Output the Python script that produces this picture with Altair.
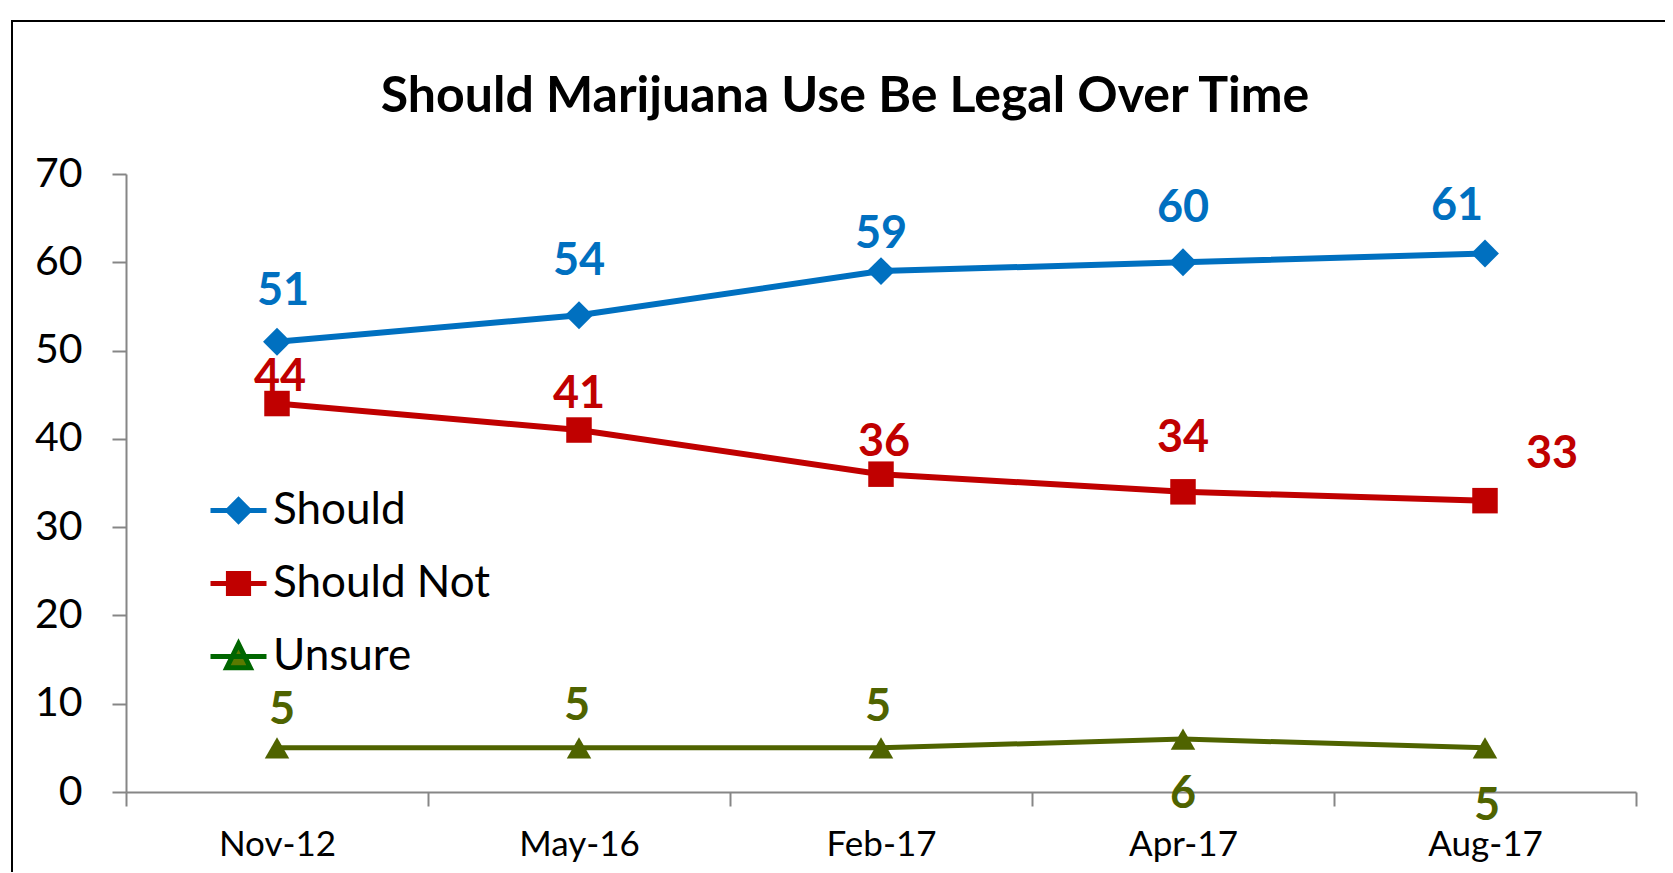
import altair as alt
import pandas as pd

categories = ["Nov-12", "May-16", "Feb-17", "Apr-17", "Aug-17"]
series_names = ["Should", "Should Not", "Unsure"]
should = [51, 54, 59, 60, 61]
should_not = [44, 41, 36, 34, 33]
unsure = [5, 5, 5, 6, 5]
y_ticks = [0, 10, 20, 30, 40, 50, 60, 70]
title_text = "Should Marijuana Use Be Legal Over Time"

rows = []
for s, vals in zip(series_names, [should, should_not, unsure]):
    for c, v in zip(categories, vals):
        rows.append({"date": c, "series": s, "value": v})
df = pd.DataFrame(rows)

# styles
colors = {"Should": "#0070C0", "Should Not": "#C00000", "Unsure": "#4F6300"}
shapes = {"Should": "diamond", "Should Not": "square", "Unsure": "triangle-up"}
sizes = {"Should": 780, "Should Not": 650, "Unsure": 600}
widths = {"Should": 6, "Should Not": 6, "Unsure": 5}
label_shift = {
    "Should": [(6, -51), (0, -54), (0, -37), (0, -54), (-28, -47)],
    "Should Not": [(3, -27), (0, -36), (3, -32), (0, -54), (67, -47)],
    "Unsure": [(5, -38), (-2, -42), (-3, -41), (0, 55), (2, 58)],
}
FONT = "Lato"
W, H = 1510, 618

x_enc = alt.X(
    "date:N",
    sort=categories,
    scale=alt.Scale(type="band", domain=categories, paddingInner=0, paddingOuter=0),
    axis=alt.Axis(
        title=None, labelAngle=0, tickBand="extent", tickSize=14, labelPadding=21,
        labelFontSize=35, labelFont=FONT, labelColor="black",
        domainColor="#868686", tickColor="#868686", domainWidth=2, tickWidth=2,
    ),
)
y_enc = alt.Y(
    "value:Q",
    scale=alt.Scale(domain=[0, 70], nice=False, zero=True),
    axis=alt.Axis(
        title=None, values=y_ticks, grid=False, tickSize=14, labelPadding=30,
        labelFontSize=41, labelFont=FONT, labelColor="black",
        domainColor="#868686", tickColor="#868686", domainWidth=2, tickWidth=2,
    ),
)

base = alt.Chart(df)
one = alt.Chart(pd.DataFrame({"k": [0]}))
layers = []

# frame around chart area
frame = one.mark_rect(
    fill="white", fillOpacity=0, stroke="black", strokeWidth=2
).encode(x=alt.value(-114), y=alt.value(-153), x2=alt.value(W + 300), y2=alt.value(H + 300))
layers.append(frame)

# chart title
title_layer = one.mark_text(
    text=title_text, font=FONT, fontSize=50, fontWeight="bold", color="black",
    align="center", baseline="middle",
).encode(x=alt.value(719), y=alt.value(-77))
layers.append(title_layer)

for s in series_names:
    sub = base.transform_filter(alt.datum.series == s)
    layers.append(
        sub.mark_line(color=colors[s], strokeWidth=widths[s]).encode(x=x_enc, y=y_enc)
    )
    layers.append(
        sub.mark_point(
            shape=shapes[s], filled=True, opacity=1, color=colors[s], size=sizes[s], strokeWidth=0
        ).encode(x=x_enc, y=y_enc)
    )
    for i, c in enumerate(categories):
        dx, dy = label_shift[s][i]
        layers.append(
            base.transform_filter((alt.datum.series == s) & (alt.datum.date == c))
            .mark_text(
                dx=dx, dy=dy, font=FONT, fontSize=45, fontWeight="bold",
                color=colors[s], baseline="middle", align="center",
            )
            .encode(x=x_enc, y=y_enc, text="value:Q")
        )

legend_paths = [
    "M-1,0H1M0,-0.38L0.38,0L0,0.38L-0.38,0Z",
    "M-1,0H1M-0.36,-0.36H0.36V0.36H-0.36Z",
    "M-1,0H1M0,-0.45L0.42,0.4H-0.42Z",
]
leg = alt.Legend(
    title=None, orient="none", legendX=82, legendY=306, padding=0,
    symbolSize=3136, symbolStrokeWidth=5, symbolOpacity=1,
    labelFontSize=44, labelFont=FONT, labelColor="black", labelOffset=4,
    rowPadding=20, labelLimit=400,
)
legend_layer = base.transform_filter("datum.value < 0").mark_point(
    filled=True, opacity=1
).encode(
    x=x_enc,
    y=y_enc,
    color=alt.Color(
        "series:N",
        scale=alt.Scale(domain=series_names, range=["#0070C0", "#C00000", "#5A7A00"]),
        legend=leg,
    ),
    stroke=alt.Stroke(
        "series:N",
        scale=alt.Scale(domain=series_names, range=["#0070C0", "#C00000", "#006600"]),
        legend=leg,
    ),
    shape=alt.Shape(
        "series:N",
        scale=alt.Scale(domain=series_names, range=legend_paths),
        legend=leg,
    ),
)
layers.append(legend_layer)

chart = alt.layer(*layers).properties(
    width=W,
    height=H,
    autosize=alt.AutoSizeParams(type="none"),
    padding={"left": 118, "top": 166, "right": 29, "bottom": 80},
).configure(background="white", view=alt.ViewConfig(strokeWidth=0))

chart.save("out.html", embed_options={"renderer": "svg", "actions": False})
